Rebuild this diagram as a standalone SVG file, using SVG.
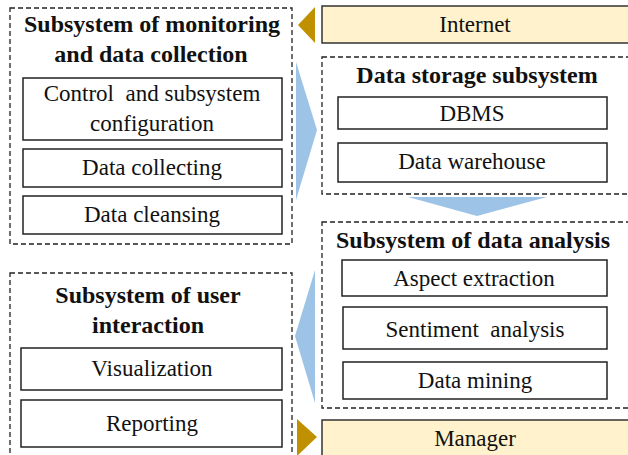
<svg xmlns="http://www.w3.org/2000/svg" width="628" height="455" viewBox="0 0 628 455">
<style>
.dash{fill:none;stroke:#222;stroke-width:1.3;stroke-dasharray:5,3}
.box{fill:#fff;stroke:#222;stroke-width:1.5}
.ext{fill:#FFF2CC;stroke:#333;stroke-width:1.5}
.t{font-family:"Liberation Serif","Times New Roman",serif;font-size:23px;fill:#111;text-anchor:middle}
.h{font-family:"Liberation Serif","Times New Roman",serif;font-size:24px;font-weight:bold;fill:#111;text-anchor:middle}
.blue{fill:#9DC3E6}
.gold{fill:#BF9000}
</style>
<rect width="628" height="455" fill="#fff"/>
<g id="connectors">
<polygon class="blue" points="296,62 317,130 296,200"/>
<polygon class="blue" points="408,197 547,197 477,216"/>
<polygon class="blue" points="315,270 295,336 315,403"/>
<polygon class="gold" points="298,25 315,7 315,43"/>
<polygon class="gold" points="297,419 317,437 297,456"/>
</g>
<g id="monitoring">
<rect class="dash" x="10" y="8" width="282" height="236"/>
<text class="h" x="152" y="32">Subsystem of monitoring</text>
<text class="h" x="151" y="62">and data collection</text>
<g id="control"><rect class="box" x="23" y="78" width="259" height="62"/>
<text class="t" x="152" y="101" xml:space="preserve">Control  and subsystem</text>
<text class="t" x="152" y="131">configuration</text></g>
<g id="collecting"><rect class="box" x="23" y="149" width="259" height="38"/>
<text class="t" x="152" y="175">Data collecting</text></g>
<g id="cleansing"><rect class="box" x="23" y="196" width="259" height="38"/>
<text class="t" x="152" y="222">Data cleansing</text></g>
</g>
<g id="internet">
<rect class="ext" x="322" y="6" width="320" height="37"/>
<text class="t" x="475" y="32">Internet</text>
</g>
<g id="storage">
<rect class="dash" x="322" y="57" width="320" height="137"/>
<text class="h" x="477" y="83">Data storage subsystem</text>
<g id="dbms"><rect class="box" x="338" y="97" width="269" height="32"/>
<text class="t" x="472" y="121">DBMS</text></g>
<g id="warehouse"><rect class="box" x="338" y="143" width="269" height="39"/>
<text class="t" x="472" y="169">Data warehouse</text></g>
</g>
<g id="analysis">
<rect class="dash" x="322" y="222" width="320" height="186"/>
<text class="h" x="473" y="248">Subsystem of data analysis</text>
<g id="aspect"><rect class="box" x="342" y="260" width="265" height="36"/>
<text class="t" x="474" y="286">Aspect extraction</text></g>
<g id="sentiment"><rect class="box" x="343" y="307" width="264" height="42"/>
<text class="t" x="475" y="337" xml:space="preserve">Sentiment  analysis</text></g>
<g id="mining"><rect class="box" x="343" y="362" width="264" height="37"/>
<text class="t" x="475" y="388">Data mining</text></g>
</g>
<g id="manager">
<rect class="ext" x="322" y="420" width="320" height="40"/>
<text class="t" x="475" y="446">Manager</text>
</g>
<g id="user">
<rect class="dash" x="10" y="273" width="282" height="200"/>
<text class="h" x="148" y="303">Subsystem of user</text>
<text class="h" x="148" y="333">interaction</text>
<g id="visualization"><rect class="box" x="21" y="348" width="261" height="42"/>
<text class="t" x="152" y="376">Visualization</text></g>
<g id="reporting"><rect class="box" x="21" y="400" width="261" height="47"/>
<text class="t" x="152" y="431">Reporting</text></g>
</g>
</svg>
